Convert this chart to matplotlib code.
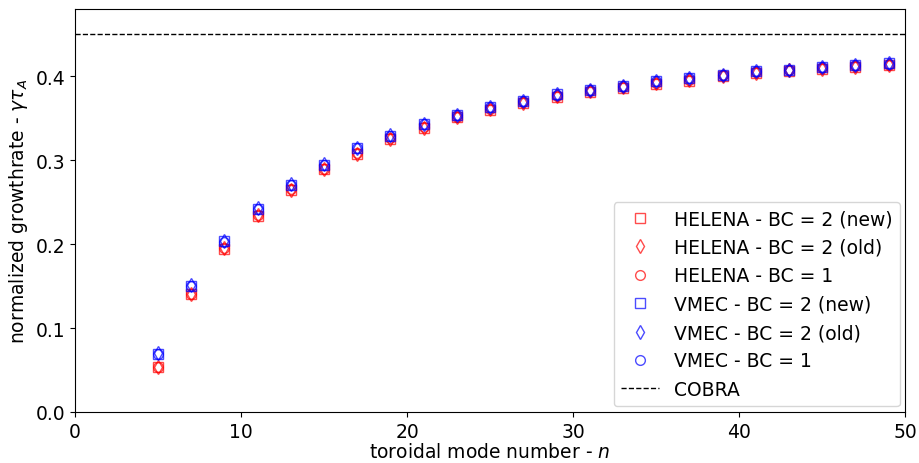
import matplotlib
matplotlib.use("Agg")
import matplotlib.pyplot as plt
import numpy as np

n = np.arange(5, 50, 2)
helena_new = [0.053, 0.140, 0.194, 0.234, 0.264, 0.289, 0.308, 0.325, 0.339, 0.351, 0.360, 0.368,
              0.375, 0.381, 0.386, 0.391, 0.395, 0.400, 0.404, 0.406, 0.409, 0.411, 0.413]
helena_old = [0.054, 0.141, 0.195, 0.235, 0.265, 0.289, 0.308, 0.325, 0.339, 0.351, 0.361, 0.368,
              0.376, 0.382, 0.387, 0.392, 0.396, 0.400, 0.404, 0.407, 0.409, 0.411, 0.413]
helena_bc1 = [0.054, 0.141, 0.195, 0.235, 0.266, 0.290, 0.309, 0.326, 0.340, 0.352, 0.361, 0.369,
              0.376, 0.382, 0.387, 0.392, 0.396, 0.401, 0.405, 0.407, 0.410, 0.412, 0.414]
vmec_new = [0.069, 0.150, 0.204, 0.242, 0.271, 0.294, 0.314, 0.329, 0.343, 0.354, 0.364, 0.371,
            0.379, 0.384, 0.389, 0.395, 0.398, 0.402, 0.406, 0.408, 0.411, 0.413, 0.416]
vmec_old = [0.070, 0.151, 0.204, 0.243, 0.272, 0.295, 0.315, 0.330, 0.343, 0.354, 0.364, 0.371,
            0.379, 0.384, 0.389, 0.395, 0.398, 0.402, 0.406, 0.408, 0.411, 0.413, 0.416]
vmec_bc1 = [0.069, 0.150, 0.203, 0.242, 0.271, 0.294, 0.314, 0.329, 0.343, 0.354, 0.363, 0.371,
            0.378, 0.384, 0.389, 0.394, 0.398, 0.402, 0.406, 0.408, 0.411, 0.413, 0.415]
cobra = 0.45

plt.rcParams.update({"font.size": 13.5})
fig = plt.figure(figsize=(9.2, 4.64), dpi=100)
ax = fig.add_axes([0.0815, 0.11, 0.9025, 0.868])
series = [(helena_new, 's', 'red', "HELENA - BC = 2 (new)"),
          (helena_old, 'd', 'red', "HELENA - BC = 2 (old)"),
          (helena_bc1, 'o', 'red', "HELENA - BC = 1"),
          (vmec_new, 's', 'blue', "VMEC - BC = 2 (new)"),
          (vmec_old, 'd', 'blue', "VMEC - BC = 2 (old)"),
          (vmec_bc1, 'o', 'blue', "VMEC - BC = 1")]
for vals, m, c, lab in series:
    ax.plot(n, vals, ls='none', marker=m, ms=7, mfc='none', mec=c, mew=1.0, alpha=0.7, label=lab)
ax.axhline(cobra, color='k', ls='--', lw=1, label="COBRA")
ax.set_xlim(0, 50)
ax.set_ylim(0, 0.48)
ax.set_yticks([0.0, 0.1, 0.2, 0.3, 0.4])
ax.set_xlabel("toroidal mode number - $n$", labelpad=1)
ax.set_ylabel(r"normalized growthrate - $\gamma\tau_A$")
ax.legend(loc='lower right', borderaxespad=0.3)
fig.savefig("out.png", dpi=100)
